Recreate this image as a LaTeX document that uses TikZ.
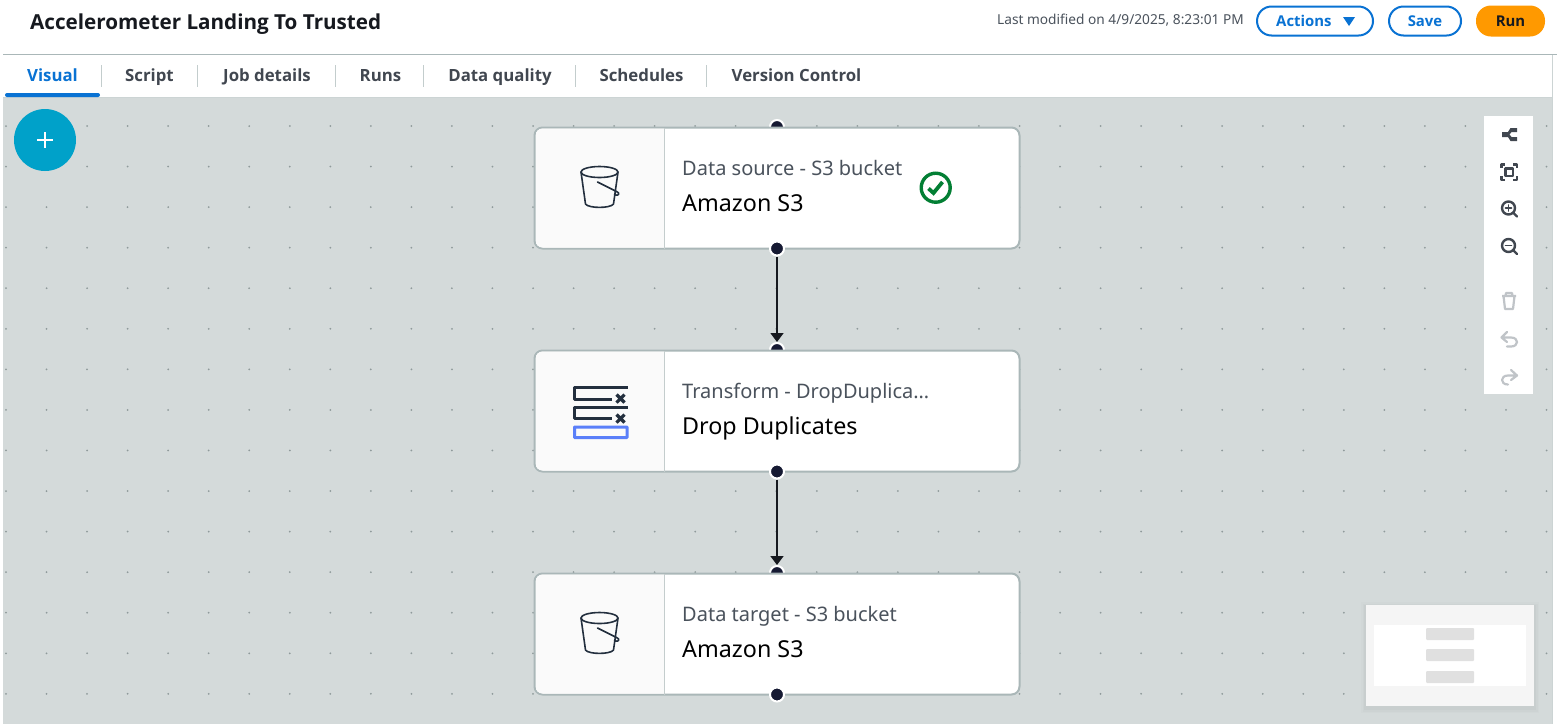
\documentclass[tikz,border=0pt]{standalone}
\usepackage{fontspec}
\setmainfont{Noto Sans}
\newfontfamily\uib{Open Sans}
\usetikzlibrary{arrows.meta}
\definecolor{canvas}{HTML}{D4DADA}
\definecolor{rulec}{HTML}{AAB7B8}
\definecolor{griddot}{HTML}{8F9A9B}
\definecolor{portc}{HTML}{161A33}
\definecolor{ink}{HTML}{16191F}
\definecolor{tabc}{HTML}{414750}
\definecolor{subc}{HTML}{4A525C}
\definecolor{blue}{HTML}{0972D3}
\definecolor{teal}{HTML}{00A1C9}
\definecolor{runc}{HTML}{FF9900}
\definecolor{okc}{HTML}{037F34}
\definecolor{idrop}{HTML}{232F3E}
\definecolor{iblue}{HTML}{5A7FF9}
\definecolor{toolc}{HTML}{414750}
\definecolor{toolg}{HTML}{C0C4C8}
\newcommand{\fs}[1]{\fontsize{#1}{#1}\selectfont}
\tikzset{
 x=1pt,y=-1pt,
 card/.style={draw=rulec,line width=2pt,fill=white,rounded corners=8pt,minimum width=485pt,minimum height=121pt,inner sep=0pt,outer sep=0pt,anchor=north west},
 port/.style={circle,fill=portc,draw=white,line width=2pt,minimum size=14pt,inner sep=0pt},
 link/.style={draw=ink,line width=1.5pt,-{Triangle[length=9pt,width=13pt]}},
 sub/.style={anchor=base west,inner sep=0pt,text=subc,font=\fs{20}},
 main/.style={anchor=base west,inner sep=0pt,text=black,font=\fs{23.3}},
 tabt/.style={anchor=base,inner sep=0pt,text=tabc,font=\uib\fs{16.8}\bfseries},
 pill/.style={draw=blue,line width=2pt,fill=white,rounded corners=14.5pt,inner sep=0pt,minimum height=29pt,text=blue,font=\uib\fs{14.9}\bfseries},
 tabsep/.style={draw=rulec!70!white,line width=1pt},
 iconline/.style={draw=idrop,line width=1.6pt,line cap=round,line join=round},
 toolline/.style={draw=toolc,line width=2.4pt,line cap=round,line join=round},
}
\newcommand{\bucket}[2]{%
 \begin{scope}[shift={(#1,#2)}]
  \draw[iconline] (0,0) ellipse[x radius=18.5pt,y radius=5.5pt];
  \draw[iconline] (-18.5,0) -- (-14,32) .. controls (-11,36.5) and (11,36.5) .. (14,32) -- (18.5,0);
  \draw[iconline] (-2,10) -- (17,19.5) .. controls (21,21) and (19,24) .. (16,23) -- (15,22.5);
 \end{scope}}
\begin{document}
\begin{tikzpicture}
\useasboundingbox (0,0) rectangle (1557,724);
\fill[white] (0,0) rectangle (1557,724);
% canvas
\fill[canvas] (3,97) rectangle (1552,724);
\draw[rulec,line width=1pt] (3,54.5) -- (1557,54.5);
\draw[rulec!60!white,line width=1pt] (3,97.5) -- (1552,97.5);
\draw[rulec!60!white,line width=1pt] (1552.5,55) -- (1552.5,724);
\foreach \i in {0,...,38}{\foreach \j in {0,...,14}{
 \fill[griddot] ({6+40.54*\i},{126+40.56*\j}) circle[radius=1pt];}}
% header
\node[anchor=base west,inner sep=0pt,text=ink,font=\uib\fs{20.65}\bfseries] (title) at (30,29.5) {Accelerometer Landing To Trusted};
\node[anchor=base west,inner sep=0pt,text=subc,font=\fs{13.7}] (modified) at (997,24.5) {Last modified on 4/9/2025, 8:23:01 PM};
\node[pill,minimum width=116pt] (actions) at (1315,21) {};
\node[anchor=base west,inner sep=0pt,text=blue,font=\uib\fs{14.9}\bfseries] (actionst) at (1276,26) {Actions};
\fill[blue] (1343,17) -- (1355,17) -- (1349,26) -- cycle;
\node[pill,minimum width=72pt] (save) at (1425,21) {\raisebox{-0.5pt}{Save}};
\node[fill=runc,rounded corners=15pt,minimum width=69pt,minimum height=31pt,inner sep=0pt,text=ink,font=\uib\fs{14.9}\bfseries] (run) at (1510.5,21) {Run};
% tabs
\node[tabt,text=blue] (t1) at (52.5,81.5) {Visual};
\node[tabt] (t2) at (149.5,81.5) {Script};
\node[tabt] (t3) at (267,81.5) {Job details};
\node[tabt] (t4) at (380.5,81.5) {Runs};
\node[tabt] (t5) at (500,81.5) {Data quality};
\node[tabt] (t6) at (641.5,81.5) {Schedules};
\node[tabt] (t7) at (796.5,81.5) {Version Control};
\foreach \x in {101.5,197.5,335.5,423.5,575.5,706.5}{\draw[tabsep] (\x,65) -- (\x,87);}
\fill[blue,rounded corners=2pt] (5,93) rectangle (100,97);
% add button
\node[circle,fill=teal,minimum size=62pt,inner sep=0pt] (add) at (45,140) {};
\draw[white,line width=2pt] (37,140) -- (53,140) (45,132) -- (45,148);
% hidden top ports
\node[port] (p1in) at (777,127) {};
\node[port] (p2in) at (777,350) {};
\node[port] (p3in) at (777,573) {};
% cards
\foreach \n/\y in {c1/127.5,c2/350.5,c3/573.5}{
 \node[card] (\n) at (534.5,\y) {};
 \begin{scope}
  \clip[rounded corners=7pt] (535.5,\y+1) rectangle (1018.5,\y+120);
  \fill[black!2] (535.5,\y) rectangle (664,\y+121);
 \end{scope}
 \draw[rulec!70!white,line width=1.5pt] (664.5,\y) -- (664.5,\y+121);
}
% card text
\node[sub] (s1) at (682,175) {Data source - S3 bucket};
\node[main] (m1) at (682,211) {Amazon S3};
\node[sub] (s2) at (682,398) {Transform - DropDuplica…};
\node[main] (m2) at (682,434) {Drop Duplicates};
\node[sub] (s3) at (682,621) {Data target - S3 bucket};
\node[main] (m3) at (682,657) {Amazon S3};
% icons
\bucket{599.5}{172}
\bucket{599.5}{618}
\draw[idrop,line width=3.6pt,line join=round] (627.5,387.5) -- (574.5,387.5) -- (574.5,399.5) -- (612,399.5);
\draw[idrop,line width=3.6pt,line join=round] (627.5,407.5) -- (574.5,407.5) -- (574.5,418.5) -- (612,418.5);
\draw[idrop,line width=3.2pt] (616.5,394.5) -- (624.5,402.5) (624.5,394.5) -- (616.5,402.5);
\draw[idrop,line width=3.2pt] (616.5,414.5) -- (624.5,422.5) (624.5,414.5) -- (616.5,422.5);
\draw[iblue,line width=3pt,rounded corners=0.5pt] (574.5,427) rectangle (627,437.5);
% check
\node[circle,draw=okc,line width=3.4pt,minimum size=29pt,inner sep=0pt] (ok) at (935.7,187.7) {};
\draw[okc,line width=3.8pt] (928.5,188.5) -- (933.5,193) -- (942.5,182);
% bottom ports
\node[port] (p1out) at (777,248.5) {};
\node[port] (p2out) at (777,471.5) {};
\node[port] (p3out) at (777,694.5) {};
% connectors
\draw[link] (p1out) -- (p2in);
\draw[link] (p2out) -- (p3in);
% toolbar
\fill[white] (1484,116) rectangle (1533,394);
% layout
\fill[toolc] (1502,132) -- (1508,132) -- (1510.5,128) -- (1517,128) -- (1517,132) -- (1511.5,132) -- (1509.5,134.5) -- (1511.5,137) -- (1517,137) -- (1517,141) -- (1510.5,141) -- (1508,137) -- (1502,137) -- cycle;
% fit
\draw[toolline,line cap=butt] (1501.5,168) -- (1501.5,164.5) -- (1505,164.5) (1513,164.5) -- (1517,164.5) -- (1517,168)
  (1517,176) -- (1517,180) -- (1513,180) (1505,180) -- (1501.5,180) -- (1501.5,176);
\draw[toolline] (1505.5,168.5) rectangle (1513,176);
% zoom in
\draw[toolline] (1508.5,208) circle[radius=6.5pt] (1513.5,213) -- (1517,216.5);
\draw[toolline,line width=1.8pt] (1505.5,208) -- (1511.5,208) (1508.5,205) -- (1508.5,211);
% zoom out
\draw[toolline] (1508.5,245.5) circle[radius=6.5pt] (1513.5,250.5) -- (1517,254);
\draw[toolline,line width=1.8pt] (1505.5,245.5) -- (1511.5,245.5);
% delete
\draw[toolg,line width=2.2pt,line join=round] (1502,296) -- (1516,296) (1505.5,296) -- (1506,293) -- (1512,293) -- (1512.5,296) (1503.5,296) -- (1505,309) -- (1513,309) -- (1514.5,296);
% undo
\draw[toolg,line width=2.2pt,line cap=round,line join=round] (1507,332) -- (1501.5,337.5) -- (1507,342) (1502,337.5) -- (1511,337.5) .. controls (1519,337.5) and (1519,346.5) .. (1511,346.5) -- (1507,346.5);
% redo
\draw[toolg,line width=2.2pt,line cap=round,line join=round] (1511,370) -- (1517,375.5) -- (1511,380) (1516.5,375.5) -- (1508,375.5) .. controls (1500,375.5) and (1500,384.5) .. (1508,384.5);
% minimap
\foreach \d/\o in {5/0.012,3.5/0.015,2/0.02}{\fill[black,opacity=\o] (1366-\d,605-\d+2) rectangle (1534+\d,706+\d+2);}
\fill[black!4] (1366,605) rectangle (1534,706);
\fill[white] (1374,625) rectangle (1526,686);
\foreach \y in {628,649,671}{\fill[black!12,rounded corners=1pt] (1426,\y) rectangle (1474,\y+12);}
\end{tikzpicture}
\end{document}
